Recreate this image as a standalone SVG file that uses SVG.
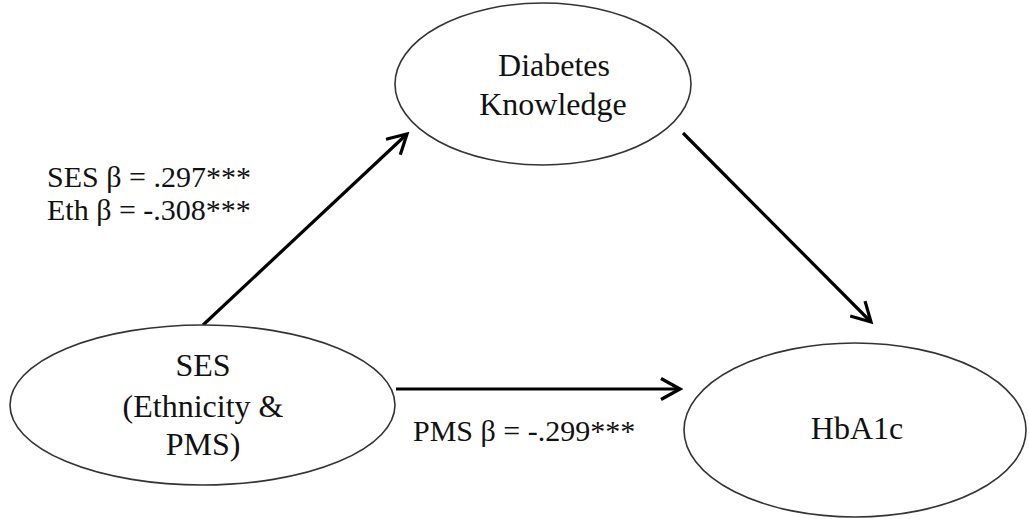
<svg xmlns="http://www.w3.org/2000/svg" width="1029" height="519" viewBox="0 0 1029 519">
<style>
.node{fill:#fff;stroke:#333;stroke-width:1.6}
.t{font-family:"Liberation Serif","Times New Roman",serif;font-size:32px;fill:#111;text-anchor:middle}
.lbl{font-family:"Liberation Serif","Times New Roman",serif;font-size:30px;fill:#111}
.edge{stroke:#000;stroke-width:3.2;fill:none}
</style>
<defs>
<marker id="arr" viewBox="0 0 24 24" refX="21" refY="12" markerWidth="24" markerHeight="24" markerUnits="userSpaceOnUse" orient="auto">
<path d="M2,1.5 L21,12 L2,22.5" fill="none" stroke="#000" stroke-width="3.2"/>
</marker>
</defs>
<rect width="1029" height="519" fill="#fff"/>
<g id="edges">
<line class="edge" x1="203" y1="325" x2="407" y2="134" marker-end="url(#arr)"/>
<line class="edge" x1="683" y1="133" x2="871" y2="322" marker-end="url(#arr)"/>
<line class="edge" x1="396" y1="389" x2="680" y2="389" marker-end="url(#arr)"/>
</g>
<g id="node-dk">
<ellipse class="node" cx="543" cy="84" rx="148" ry="81"/>
<text class="t" x="554" y="76">Diabetes</text>
<text class="t" x="553" y="115">Knowledge</text>
</g>
<g id="node-ses">
<ellipse class="node" cx="202.5" cy="405" rx="192.5" ry="80"/>
<text class="t" x="203" y="376">SES</text>
<text class="t" x="203" y="417">(Ethnicity &amp;</text>
<text class="t" x="203" y="455">PMS)</text>
</g>
<g id="node-hba1c">
<ellipse class="node" cx="855" cy="430" rx="171" ry="87"/>
<text class="t" x="857" y="439">HbA1c</text>
</g>
<g id="labels">
<text class="lbl" x="47" y="187">SES β = .297***</text>
<text class="lbl" x="47" y="220">Eth β = -.308***</text>
<text class="lbl" x="413" y="441">PMS β = -.299***</text>
</g>
</svg>
